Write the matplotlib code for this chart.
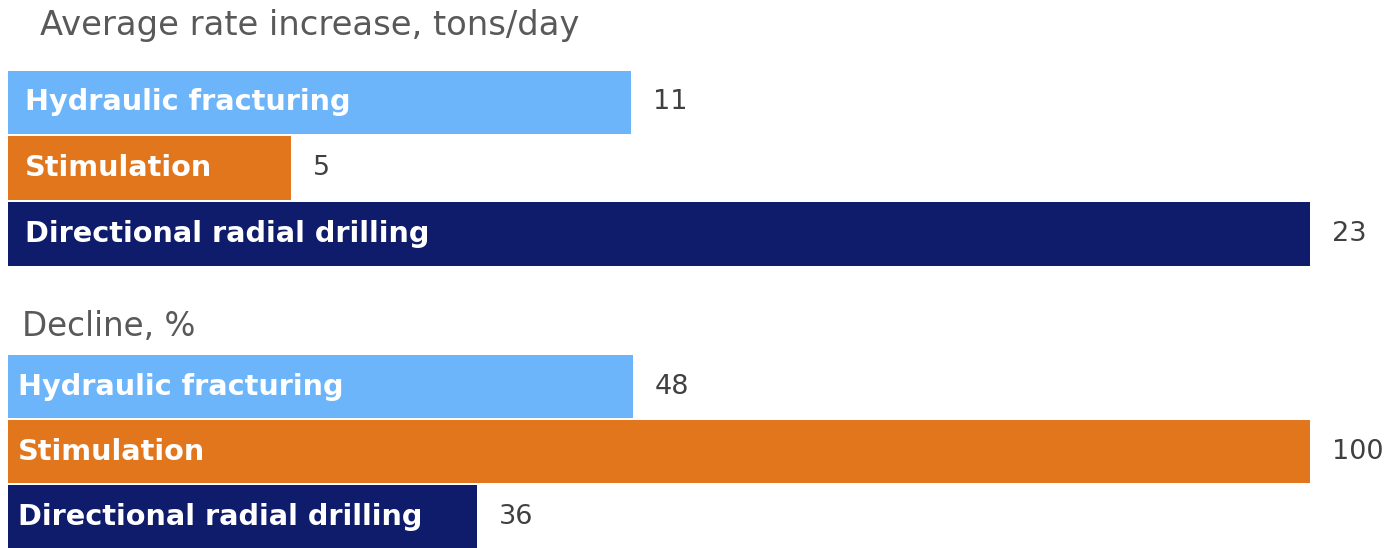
import matplotlib
matplotlib.use("Agg")
import matplotlib.pyplot as plt

categories = ["Hydraulic fracturing", "Stimulation", "Directional radial drilling"]
rate_values = [11, 5, 23]
decline_values = [48, 100, 36]
titles = ["Average rate increase, tons/day", "Decline, %"]
colors = ["#6DB5FA", "#E2761D", "#0F1C6B"]

W, H = 1400, 548
fig = plt.figure(figsize=(W / 100, H / 100), dpi=100)
plt.rcParams['font.family'] = ['DejaVu Sans']

def px_axes(x0, y0, x1, y1):
    return fig.add_axes([x0 / W, 1 - y1 / H, (x1 - x0) / W, (y1 - y0) / H])

panels = [
    (rate_values, 69.5, 267, titles[0], 40, 25, 25, 24.3),
    (decline_values, 354, 549, titles[1], 22, 327, 18, 23.5),
]

for vals, ytop, ybot, title, tx, ty, lx, tsize in panels:
    ax = px_axes(8, ytop, 1310, ybot)
    vmax = max(vals)
    ax.set_xlim(0, vmax)
    ax.set_ylim(2.5, -0.5)
    ax.barh(range(len(vals)), vals, height=0.965, color=colors)
    ax.axis("off")
    scale = vmax / 1302.0
    for i, (c, v) in enumerate(zip(categories, vals)):
        ax.text((lx - 8) * scale, i, c, color="white", fontsize=20.7,
                fontweight="bold", va="center", ha="left")
        ax.text(v + 22 * scale, i, str(v), color="#404040", fontsize=19.5,
                va="center", ha="left")
    fig.text(tx / W, 1 - ty / H, title, color="#595959", fontsize=tsize,
             va="center", ha="left")

fig.savefig("out.png", dpi=100, facecolor="white")
